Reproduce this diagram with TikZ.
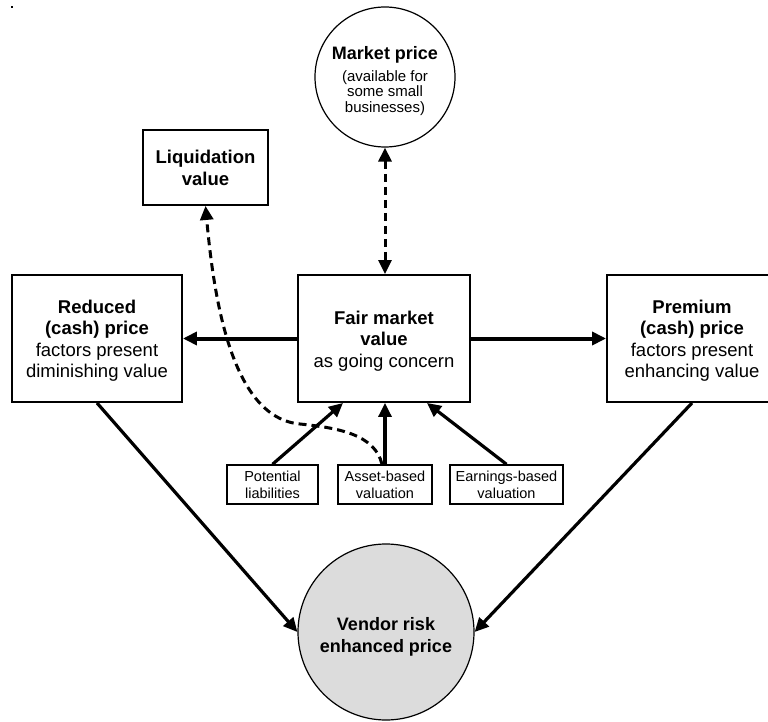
\documentclass[tikz,border=0pt]{standalone}
\usepackage{fontspec}
\setmainfont{Liberation Sans}
\usetikzlibrary{arrows.meta,calc}

\begin{document}
\begin{tikzpicture}[x=1pt,y=-1pt,
  bigbox/.style={draw,line width=1.9pt,minimum width=170pt,minimum height=127pt,
    inner sep=0pt,align=center,font=\fontsize{18.5}{21.5}\selectfont},
  smallbox/.style={draw,line width=1.4pt,minimum height=39pt,inner sep=0pt,
    align=center,font=\fontsize{14.5}{17}\selectfont},
  tip/.style={-{Triangle[length=14pt,width=13pt]}},
  mainarrow/.style={line width=4pt,tip},
  feedarrow/.style={line width=3.2pt,tip},
  linkdash/.style={line width=3pt,dash pattern=on 8pt off 5pt},
]
\useasboundingbox (0,0) rectangle (768,722);
\clip (0,0) rectangle (768,722);
\fill[white] (0,0) rectangle (768,722);
\fill (10.5,6.5) rectangle (12.5,8.5);

% central valuation and the two adjusted prices
\node[bigbox,minimum width=172pt] (fair) at (384,338.5)
  {\rule{0pt}{18pt}\textbf{Fair market}\\\textbf{value}\\as going concern};
\node[bigbox] (reduced) at (97,338.5)
  {\rule{0pt}{18pt}\textbf{Reduced}\\\textbf{(cash) price}\\factors present\\diminishing value};
\node[bigbox] (premium) at (692,338.5)
  {\rule{0pt}{18pt}\textbf{Premium}\\\textbf{(cash) price}\\factors present\\enhancing value};

% liquidation value and market price
\node[draw,line width=1.9pt,minimum width=125pt,minimum height=75pt,inner sep=0pt,
  align=center,font=\fontsize{18.5}{22}\selectfont\bfseries] (liq) at (205.5,167.5)
  {Liquidation\\value};
\node[draw,circle,line width=1.2pt,minimum size=140pt,inner sep=0pt,align=center,
  font=\fontsize{15}{15.5}\selectfont] (market) at (385,77)
  {{\fontsize{18}{18}\selectfont\bfseries\rule{0pt}{21pt}Market price}\\[6pt](available for\\some small\\businesses)};

% valuation approaches
\node[smallbox,minimum width=91pt] (pot) at (272.5,484.5) {Potential\\liabilities};
\node[smallbox,minimum width=94pt] (asset) at (385,484.5) {Asset-based\\valuation};
\node[smallbox,minimum width=113pt] (earn) at (506.5,484.5) {Earnings-based\\valuation};

% final price
\node[draw,circle,line width=1.2pt,fill={rgb,255:red,220;green,220;blue,220},
  minimum size=176pt,inner sep=0pt,align=center,
  font=\fontsize{18}{22}\selectfont\bfseries] (vendor) at (386,632)
  {\rule{0pt}{22pt}Vendor risk\\enhanced price};

% connectors
\draw[mainarrow] (fair.west) -- (reduced.east);
\draw[mainarrow] (fair.east) -- (premium.west);
\draw[feedarrow] (reduced.south) -- (vendor.west);
\draw[feedarrow] (premium.south) -- (vendor.east);
\draw[feedarrow] (pot.north) -- ($(fair.south)+(-41,0)$);
\draw[feedarrow] (asset.north) -- (asset.north |- fair.south);
\draw[feedarrow] (earn.north) -- ($(fair.south)+(43,0)$);
\draw[linkdash,{Triangle[length=14pt,width=13pt]}-{Triangle[length=14pt,width=13pt]}]
  (market.south) -- (market.south |- fair.north);
\coordinate (bend) at (300,424);
\draw[linkdash,tip] ($(asset.north)+(-3,0)$) .. controls (375,435) and (340,428) .. (bend)
  .. controls (232,418) and (214,300) .. (liq.south);
\end{tikzpicture}
\end{document}
